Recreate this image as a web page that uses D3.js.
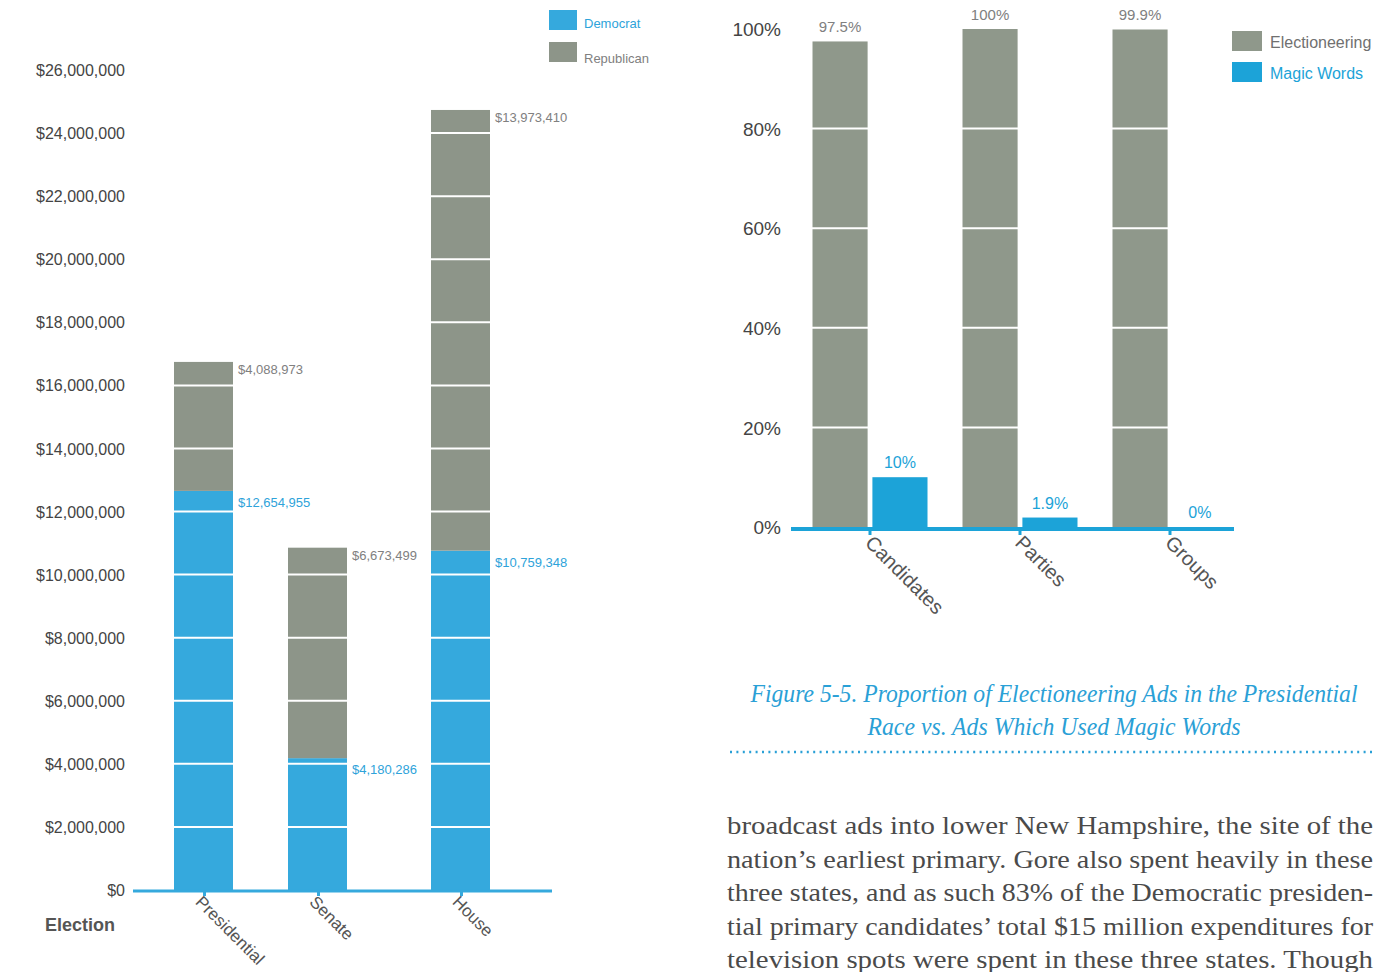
<!DOCTYPE html>
<html><head><meta charset="utf-8">
<script src="https://cdn.jsdelivr.net/npm/d3@7"></script>
<style>
html,body{margin:0;padding:0;background:#fff;}
svg{display:block;}
</style></head>
<body>
<svg id="chart" width="1398" height="972" font-family="Liberation Sans, Arial, sans-serif"></svg>
<script>
// ---------- data ----------
const electionCats = ["Presidential", "Senate", "House"];
const democratValues = [12654955, 4180286, 10759348];
const republicanValues = [4088973, 6673499, 13973410];
const moneyTicks = [0, 2000000, 4000000, 6000000, 8000000, 10000000, 12000000, 14000000, 16000000, 18000000, 20000000, 22000000, 24000000, 26000000];
const partySeries = ["Democrat", "Republican"];

const adSources = ["Candidates", "Parties", "Groups"];
const electioneeringPct = [97.5, 100, 99.9];
const magicWordsPct = [10, 1.9, 0];
const electioneeringLabels = ["97.5%", "100%", "99.9%"];
const magicWordsLabels = ["10%", "1.9%", "0%"];
const pctTicks = [0, 20, 40, 60, 80, 100];
const adSeries = ["Electioneering", "Magic Words"];

const captionLines = ["Figure 5-5. Proportion of Electioneering Ads in the Presidential", "Race vs. Ads Which Used Magic Words"];
const bodyLines = [
  "broadcast ads into lower New Hampshire, the site of the",
  "nation\u2019s earliest primary. Gore also spent heavily in these",
  "three states, and as such 83% of the Democratic presiden-",
  "tial primary candidates\u2019 total $15 million expenditures for",
  "television spots were spent in these three states. Though"
];

// ---------- styles ----------
const BLUE_L = "#35a9dd", GRAY_L = "#8d9589";
const BLUE_R = "#1ca3d8", GRAY_R = "#8f988b";
const LABEL_BLUE = "#2ea3da", LABEL_GRAY = "#808080", AXIS_TXT = "#444";
const SERIF = "Liberation Serif, Times New Roman, serif";

const svg = d3.select("#chart");

// ================= LEFT CHART =================
const L = svg.append("g");
const yL = d3.scaleLinear().domain([0, 26000000]).range([890, 70]);
// bar left edges (layout positions of the three categories)
const xL = d3.scaleOrdinal().domain(electionCats).range([174, 288, 431]);
const barWL = 59;
const fmtMoney = d3.format("$,");

// y axis labels
const yAxisL = d3.axisLeft(yL).tickValues(moneyTicks).tickSize(0).tickPadding(0).tickFormat(fmtMoney);
const gyL = L.append("g").attr("transform", "translate(125,0)").call(yAxisL);
gyL.select(".domain").remove();
gyL.selectAll("text").attr("font-size", 16).attr("fill", AXIS_TXT).attr("font-family", "Liberation Sans, Arial, sans-serif").attr("dy", "0.35em");

// stacked bars
const leftRows = electionCats.map((c, i) => ({cat: c, Democrat: democratValues[i], Republican: republicanValues[i]}));
const stackL = d3.stack().keys(partySeries)(leftRows);
const colorL = d3.scaleOrdinal().domain(partySeries).range([BLUE_L, GRAY_L]);
L.append("g").selectAll("g").data(stackL).join("g").attr("fill", d => colorL(d.key))
  .selectAll("rect").data(d => d).join("rect")
  .attr("x", d => xL(d.data.cat)).attr("width", barWL)
  .attr("y", d => yL(d[1])).attr("height", d => yL(d[0]) - yL(d[1]));

// white grid lines over bars
L.append("g").selectAll("line").data(moneyTicks.filter(t => t > 0 && t < 26000000)).join("line")
  .attr("x1", 140).attr("x2", 540).attr("y1", d => yL(d)).attr("y2", d => yL(d))
  .attr("stroke", "#fff").attr("stroke-width", 2);

// value labels
L.append("g").selectAll("text").data(stackL.flatMap(s => s.map(d => ({key: s.key, d})))).join("text")
  .attr("x", o => xL(o.d.data.cat) + barWL + 5)
  .attr("y", o => yL(o.d[1]) + (o.key === "Democrat" ? 16 : 12))
  .attr("font-size", 13)
  .attr("fill", o => o.key === "Democrat" ? LABEL_BLUE : LABEL_GRAY)
  .text(o => fmtMoney(o.key === "Democrat" ? o.d.data.Democrat : o.d.data.Republican));

// x axis
L.append("line").attr("x1", 133).attr("x2", 552).attr("y1", yL(0) + 1).attr("y2", yL(0) + 1)
  .attr("stroke", BLUE_L).attr("stroke-width", 3);
L.append("g").selectAll("line").data(electionCats).join("line")
  .attr("x1", d => xL(d) + barWL / 2 + 1).attr("x2", d => xL(d) + barWL / 2 + 1)
  .attr("y1", yL(0)).attr("y2", yL(0) + 6)
  .attr("stroke", BLUE_L).attr("stroke-width", 3);
L.append("g").selectAll("text").data(electionCats).join("text")
  .attr("transform", d => "translate(" + (xL(d) + barWL / 2 - 9) + ",903) rotate(45)")
  .attr("font-size", 17).attr("fill", "#555").text(d => d);
L.append("text").attr("x", 45).attr("y", 931).attr("font-size", 18).attr("font-weight", "bold")
  .attr("fill", "#555").text("Election");

// legend
const legL = L.append("g").selectAll("g").data(partySeries).join("g")
  .attr("transform", (d, i) => "translate(549," + (10 + i * 32) + ")");
legL.append("rect").attr("width", 28).attr("height", 20).attr("fill", d => colorL(d));
legL.append("text").attr("x", 35).attr("y", (d, i) => i === 0 ? 18 : 21).attr("font-size", 13)
  .attr("fill", d => d === "Democrat" ? LABEL_BLUE : LABEL_GRAY).text(d => d);

// ================= RIGHT CHART =================
const R = svg.append("g");
const yR = d3.scaleLinear().domain([0, 100]).range([527, 29]);
const x0R = d3.scaleBand().domain(adSources).range([795, 1245]).paddingInner(0.2333).paddingOuter(0.1167);
const x1R = d3.scaleBand().domain(adSeries).range([0, x0R.bandwidth()]).paddingInner(0.08);
const colorR = d3.scaleOrdinal().domain(adSeries).range([GRAY_R, BLUE_R]);

const gyR = R.append("g").attr("transform", "translate(781,0)")
  .call(d3.axisLeft(yR).tickValues(pctTicks).tickSize(0).tickPadding(0).tickFormat(d => d + "%"));
gyR.select(".domain").remove();
gyR.selectAll("text").attr("font-size", 19).attr("fill", AXIS_TXT).attr("font-family", "Liberation Sans, Arial, sans-serif").attr("dy", "0.35em");

const rightRows = adSources.map((c, i) => ({cat: c, vals: [
  {key: "Electioneering", v: electioneeringPct[i], label: electioneeringLabels[i]},
  {key: "Magic Words", v: magicWordsPct[i], label: magicWordsLabels[i]}]}));

const grp = R.append("g").selectAll("g").data(rightRows).join("g")
  .attr("transform", d => "translate(" + x0R(d.cat) + ",0)");
grp.selectAll("rect").data(d => d.vals).join("rect")
  .attr("x", d => x1R(d.key)).attr("width", x1R.bandwidth())
  .attr("y", d => yR(d.v)).attr("height", d => yR(0) - yR(d.v))
  .attr("fill", d => colorR(d.key));

// white grid lines
R.append("g").selectAll("line").data(pctTicks.filter(t => t > 0 && t < 100)).join("line")
  .attr("x1", 800).attr("x2", 1240).attr("y1", d => yR(d)).attr("y2", d => yR(d))
  .attr("stroke", "#fff").attr("stroke-width", 2);

// value labels (on top of grid)
const lblGrp = R.append("g").selectAll("g").data(rightRows).join("g")
  .attr("transform", d => "translate(" + x0R(d.cat) + ",0)");
lblGrp.selectAll("text").data(d => d.vals).join("text")
  .attr("x", d => x1R(d.key) + x1R.bandwidth() / 2)
  .attr("y", d => yR(d.v) - 9)
  .attr("text-anchor", "middle")
  .attr("font-size", d => d.key === "Electioneering" ? 15 : 16)
  .attr("fill", d => d.key === "Electioneering" ? LABEL_GRAY : BLUE_R)
  .text(d => d.label);

// x axis
R.append("line").attr("x1", 791).attr("x2", 1234).attr("y1", yR(0) + 2).attr("y2", yR(0) + 2)
  .attr("stroke", BLUE_R).attr("stroke-width", 4);
const gxR = R.append("g").attr("transform", "translate(0," + (yR(0) + 2) + ")")
  .call(d3.axisBottom(x0R).tickSize(6).tickFormat(""));
gxR.select(".domain").remove();
gxR.selectAll(".tick line").attr("stroke", BLUE_R).attr("stroke-width", 3);
R.append("g").selectAll("text").data(adSources).join("text")
  .attr("transform", d => "translate(" + (x0R(d) + x0R.bandwidth() / 2 - 6) + ",544) rotate(45)")
  .attr("font-size", 20).attr("fill", "#555").text(d => d);

// legend
const legR = R.append("g").selectAll("g").data(adSeries).join("g")
  .attr("transform", (d, i) => "translate(1232," + (31 + i * 31) + ")");
legR.append("rect").attr("width", 30).attr("height", 20).attr("fill", d => colorR(d));
legR.append("text").attr("x", 38).attr("y", 17).attr("font-size", 16)
  .attr("fill", d => d === "Electioneering" ? "#707070" : BLUE_R).text(d => d);

// ================= CAPTION & BODY =================
const capLens = [607, 373];
svg.append("g").selectAll("text").data(captionLines).join("text")
  .attr("x", 1054).attr("y", (d, i) => 702 + i * 33)
  .attr("text-anchor", "middle")
  .attr("font-family", SERIF)
  .attr("font-style", "italic").attr("font-size", 25).attr("fill", "#2aa0d6")
  .attr("textLength", (d, i) => capLens[i]).attr("lengthAdjust", "spacingAndGlyphs")
  .text(d => d);
svg.append("line").attr("x1", 730).attr("x2", 1373).attr("y1", 752).attr("y2", 752)
  .attr("stroke", "#2aa0d6").attr("stroke-width", 2.5).attr("stroke-dasharray", "2,4.4");

svg.append("g").selectAll("text").data(bodyLines).join("text")
  .attr("x", 727).attr("y", (d, i) => 834 + i * 33.5)
  .attr("font-family", SERIF)
  .attr("font-size", 26).attr("fill", "#4a4a4a")
  .attr("textLength", 646).attr("lengthAdjust", "spacingAndGlyphs")
  .text(d => d);
</script>
</body></html>
